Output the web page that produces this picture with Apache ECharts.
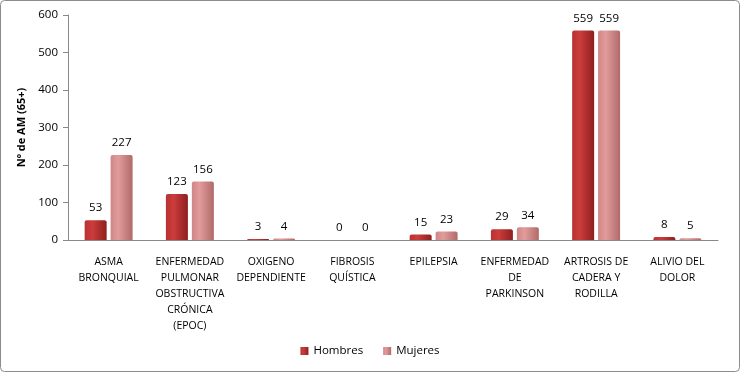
<!DOCTYPE html>
<html><head><meta charset="utf-8">
<script src="https://cdn.jsdelivr.net/npm/echarts@6/dist/echarts.min.js"></script>
<style>html,body{margin:0;padding:0;background:#fff}#c{width:740px;height:372px}</style>
</head><body><div id="c"></div>
<script>
const categories = ["ASMA\nBRONQUIAL","ENFERMEDAD\nPULMONAR\nOBSTRUCTIVA\nCRÓNICA\n(EPOC)","OXIGENO\nDEPENDIENTE","FIBROSIS\nQUÍSTICA","EPILEPSIA","ENFERMEDAD\nDE\nPARKINSON","ARTROSIS DE\nCADERA Y\nRODILLA","ALIVIO DEL\nDOLOR"];
const hombres = [53,123,3,0,15,29,559,8];
const mujeres = [227,156,4,0,23,34,559,5];
const yTicks = [0,100,200,300,400,500,600];
const yName = "Nº de AM (65+)";
const seriesNames = ["Hombres","Mujeres"];

const font = "'Open Sans', 'Liberation Sans', sans-serif";
function grad(c0,c1,c2){
  return {type:'linear',x:0,y:0,x2:1,y2:0,colorStops:[{offset:0,color:c0},{offset:0.35,color:c1},{offset:1,color:c2}]};
}
const chart = echarts.init(document.getElementById('c'));
chart.setOption({
  animation:false,
  textStyle:{fontFamily:font},
  graphic:[{type:'rect',shape:{x:0.5,y:0.5,width:739,height:371,r:4},style:{fill:'none',stroke:'#8c8c8c',lineWidth:1},silent:true}],
  grid:{left:68,right:22,top:15,bottom:132},
  legend:{bottom:10,left:'center',itemWidth:8,itemHeight:8,itemGap:20,icon:'rect',
    textStyle:{fontSize:11.5,color:'#000',fontFamily:font},data:seriesNames},
  xAxis:{type:'category',data:categories,
    axisLine:{lineStyle:{color:'#888'}},axisTick:{show:false},
    axisLabel:{interval:0,fontSize:10.5,color:'#000',lineHeight:16,margin:14,fontFamily:font}},
  yAxis:{type:'value',min:yTicks[0],max:yTicks[yTicks.length-1],interval:100,
    name:yName,nameLocation:'middle',nameGap:36,nameRotate:90,
    nameTextStyle:{fontWeight:'bold',fontSize:11,color:'#000',fontFamily:font},
    axisLine:{show:true,lineStyle:{color:'#888'}},
    axisTick:{show:true,inside:false,length:5,lineStyle:{color:'#888'}},
    splitLine:{show:false},
    axisLabel:{fontSize:11.5,color:'#000',margin:10,fontFamily:font}},
  series:[
    {name:seriesNames[0],type:'bar',data:hombres,barWidth:22,barGap:'18%',
     itemStyle:{color:grad('#b83232','#cc3c3c','#8e1f1f'),borderRadius:[2,2,0,0]},
     label:{show:true,position:'top',fontSize:11.5,color:'#000',distance:6,fontFamily:font}},
    {name:seriesNames[1],type:'bar',data:mujeres,barWidth:22,
     itemStyle:{color:grad('#d08686','#e29b9b','#b06a6a'),borderRadius:[2,2,0,0]},
     label:{show:true,position:'top',fontSize:11.5,color:'#000',distance:6,fontFamily:font}}
  ]
});
</script></body></html>
